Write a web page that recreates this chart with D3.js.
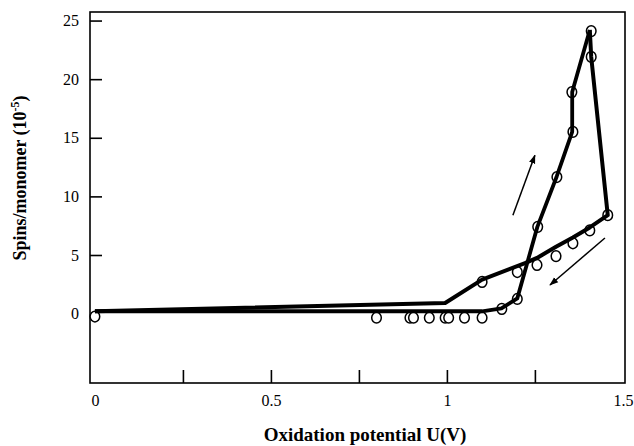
<!DOCTYPE html>
<html>
<head>
<meta charset="utf-8">
<script src="https://cdn.jsdelivr.net/npm/d3@7/dist/d3.min.js"></script>
<style>
  html, body { margin: 0; padding: 0; background: #fff; }
  svg { display: block; }
</style>
</head>
<body>
<svg id="chart" width="634" height="446"></svg>
<script>
// ---- data ----
const forwardU = [0, 1.10, 1.155, 1.20, 1.257, 1.312, 1.356, 1.356, 1.406];
const forwardS = [0.2, 0.2, 0.45, 1.3, 7.4, 11.7, 15.5, 18.9, 24.2];

const reverseU = [1.406, 1.41, 1.457, 1.406, 1.358, 1.31, 1.256, 1.222, 1.10, 0.995, 0];
const reverseS = [24.2, 21.9, 8.4, 7.35, 6.5, 5.7, 4.75, 4.3, 2.9, 0.9, 0.2];

const markerU = [0, 0.80, 0.895, 0.905, 0.95, 0.995, 1.005, 1.05, 1.10, 1.156, 1.20,
                 1.258, 1.3125, 1.358, 1.355, 1.41, 1.41, 1.457,
                 1.406, 1.358, 1.31, 1.256, 1.20, 1.10];
const markerS = [-0.25, -0.35, -0.35, -0.35, -0.35, -0.35, -0.35, -0.35, -0.35, 0.4, 1.25,
                 7.4, 11.65, 15.5, 18.9, 24.1, 21.9, 8.4,
                 7.1, 6.0, 4.9, 4.15, 3.55, 2.7];

// arrows: [u0, s0, u1, s1] (tail -> head)
const arrowUp = [1.1875, 8.4, 1.25, 13.5];
const arrowDown = [1.449, 6.45, 1.293, 2.44];

const xTickMarks = [0.25, 0.5, 0.75, 1.0, 1.25];
const xTickLabels = [0, 0.5, 1, 1.5];
const yTickMarks = [5, 10, 15, 20, 25];
const yTickLabels = [0, 5, 10, 15, 20, 25];

const xTitle = "Oxidation potential U(V)";

// ---- layout ----
const svg = d3.select("#chart");
const mLeft = 90, mRight = 625, mTop = 12, mBottom = 383;

const x = d3.scaleLinear().domain([-0.014, 1.506]).range([mLeft, mRight]);
const y = d3.scaleLinear().domain([-5.92, 25.73]).range([mBottom, mTop]);

const serif = "'Liberation Serif', 'Times New Roman', serif";

// axes: tick marks (inward)
const gx = svg.append("g").attr("transform", `translate(0,${mBottom})`)
  .call(d3.axisBottom(x).tickValues(xTickMarks).tickSize(-13).tickFormat(""));
const gxl = svg.append("g").attr("transform", `translate(0,${mBottom})`)
  .call(d3.axisBottom(x).tickValues(xTickLabels).tickSize(0).tickPadding(12)
        .tickFormat(d => d3.format("")(d)));
const gy = svg.append("g").attr("transform", `translate(${mLeft},0)`)
  .call(d3.axisLeft(y).tickValues(yTickMarks).tickSize(-12).tickFormat(""));
const gyl = svg.append("g").attr("transform", `translate(${mLeft},0)`)
  .call(d3.axisLeft(y).tickValues(yTickLabels).tickSize(0).tickPadding(11));

[gx, gxl, gy, gyl].forEach(g => {
  g.select(".domain").remove();
  g.selectAll("line").attr("stroke", "#000").attr("stroke-width", 1.6);
  g.selectAll("text").attr("font-family", serif).attr("font-size", 16).attr("fill", "#000");
});

// frame
svg.append("rect")
  .attr("x", mLeft).attr("y", mTop)
  .attr("width", mRight - mLeft).attr("height", mBottom - mTop)
  .attr("fill", "none").attr("stroke", "#000").attr("stroke-width", 1.6);

// markers
const markers = markerU.map((u, i) => ({u, s: markerS[i]}));
svg.append("g").selectAll("ellipse").data(markers).join("ellipse")
  .attr("cx", d => x(d.u)).attr("cy", d => y(d.s))
  .attr("rx", 4.8).attr("ry", 5.4)
  .attr("fill", "#fff").attr("stroke", "#000").attr("stroke-width", 1.5);

// lines
const line = d3.line().x(d => x(d[0])).y(d => y(d[1]));
const fwd = forwardU.map((u, i) => [u, forwardS[i]]);
const rev = reverseU.map((u, i) => [u, reverseS[i]]);
svg.append("path").attr("d", line(fwd)).attr("fill", "none")
  .attr("stroke", "#000").attr("stroke-width", 3.8).attr("stroke-linejoin", "round");
svg.append("path").attr("d", line(rev)).attr("fill", "none")
  .attr("stroke", "#000").attr("stroke-width", 4).attr("stroke-linejoin", "round");

// arrows
const defs = svg.append("defs");
defs.append("marker").attr("id", "ah").attr("viewBox", "0 0 10 10")
  .attr("refX", 9).attr("refY", 5).attr("markerWidth", 9).attr("markerHeight", 9)
  .attr("markerUnits", "userSpaceOnUse").attr("orient", "auto")
  .append("path").attr("d", "M0,1.5 L10,5 L0,8.5 Z").attr("fill", "#000");
[arrowUp, arrowDown].forEach(a => {
  svg.append("line")
    .attr("x1", x(a[0])).attr("y1", y(a[1]))
    .attr("x2", x(a[2])).attr("y2", y(a[3]))
    .attr("stroke", "#000").attr("stroke-width", 1.5)
    .attr("marker-end", "url(#ah)");
});

// titles
svg.append("text")
  .attr("x", 365).attr("y", 441)
  .attr("text-anchor", "middle")
  .attr("font-family", serif).attr("font-size", 19).attr("font-weight", "bold")
  .text(xTitle);

const yt = svg.append("text")
  .attr("transform", "translate(26,178) rotate(-90)")
  .attr("text-anchor", "middle")
  .attr("font-family", serif).attr("font-size", 18).attr("font-weight", "bold");
yt.append("tspan").text("Spins/monomer (10");
yt.append("tspan").attr("font-size", 12).attr("dy", -7).text("-5");
yt.append("tspan").attr("dy", 7).text(")");
</script>
</body>
</html>
